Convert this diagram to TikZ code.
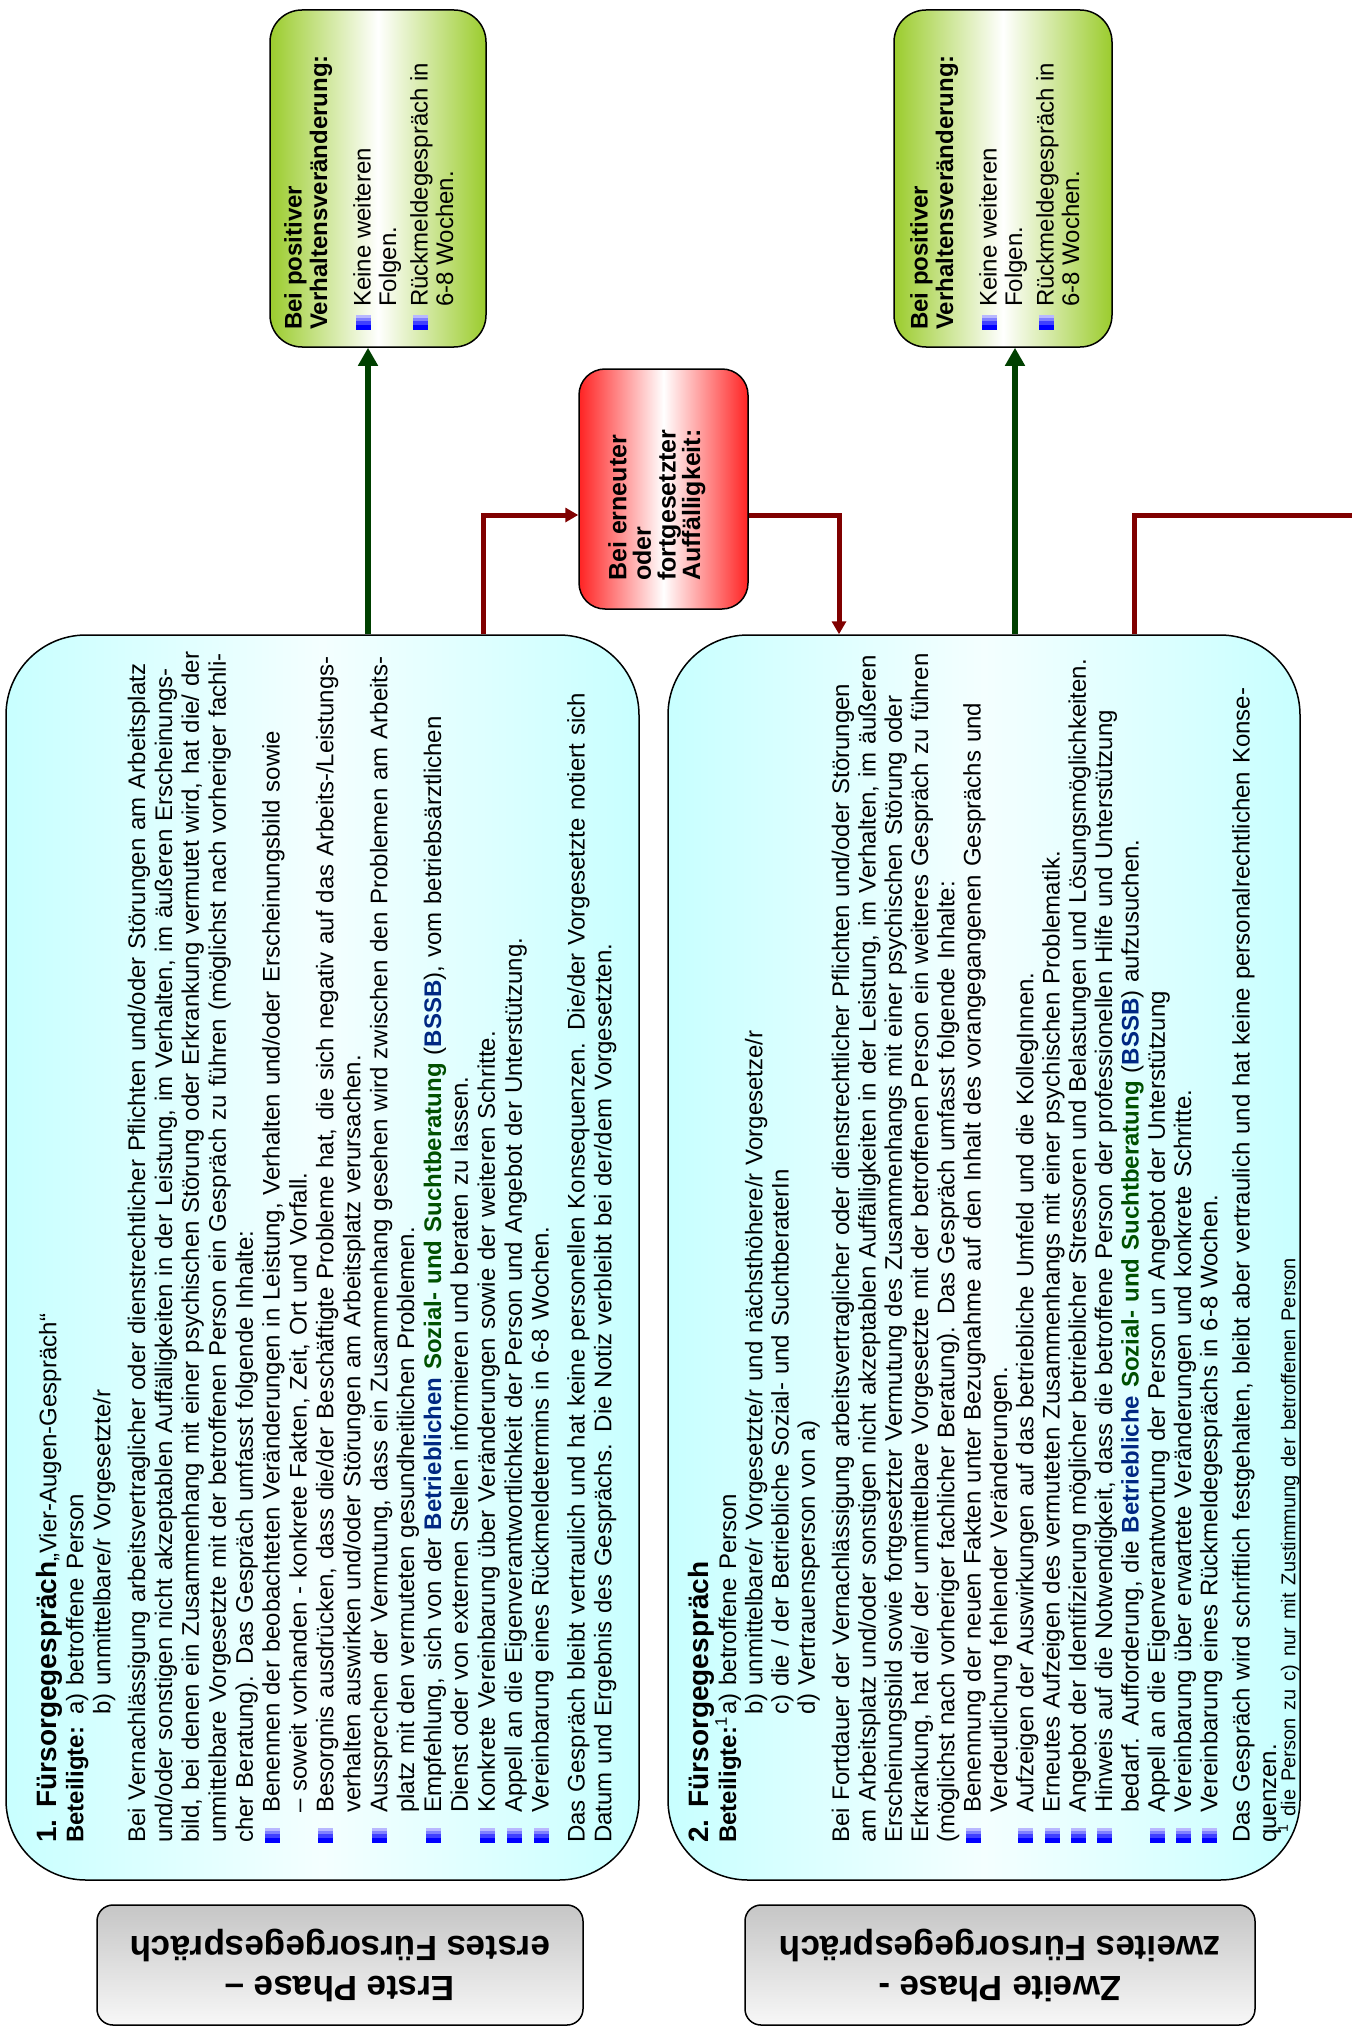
\documentclass[tikz,border=0pt]{standalone}
\usepackage{fontspec}
\setmainfont{Liberation Sans}
\usetikzlibrary{arrows.meta, positioning, shadings}

\definecolor{cyanbox}{RGB}{200,255,255}
\definecolor{grnbox}{RGB}{155,204,45}
\definecolor{redbox}{RGB}{255,35,35}
\definecolor{okgreen}{RGB}{0,64,0}
\definecolor{warnred}{RGB}{128,0,0}
\definecolor{bssbblue}{RGB}{0,40,130}
\definecolor{bssbgreen}{RGB}{0,80,0}

% bullet squares (light towards the end of the line)
\newcommand{\bulsq}[1]{%
  \textcolor{blue}{\rule{\dimexpr #1pt*35/100\relax}{#1pt}}%
  \textcolor{blue!75}{\rule{\dimexpr #1pt*25/100\relax}{#1pt}}%
  \textcolor{blue!50}{\rule{\dimexpr #1pt*20/100\relax}{#1pt}}%
  \textcolor{blue!28}{\rule{\dimexpr #1pt*20/100\relax}{#1pt}}}
\newcommand{\bul}{\makebox[30pt][l]{\bulsq{15}}}
\newcommand{\ind}{\hspace*{30pt}}
\newcommand{\sbul}{\makebox[23pt][l]{\bulsq{15}}}
\newcommand{\sind}{\hspace*{23pt}}
\newcommand{\bssb}[1]{\textcolor{bssbblue}{\textbf{#1}}}
\newcommand{\ssb}[1]{\textcolor{bssbgreen}{\textbf{#1}}}

\tikzset{
  phasebox/.style={draw=black, line width=1.5pt, rounded corners=16pt, inner sep=0pt,
    top color=gray!45, bottom color=gray!6},
  talkbox/.style={draw=black, line width=1.5pt, rounded corners=80pt, inner sep=0pt,
    left color=cyanbox, right color=cyanbox, middle color=cyanbox!20!white},
  okbox/.style={draw=black, line width=1.5pt, rounded corners=32pt, inner sep=0pt,
    left color=grnbox, right color=grnbox, middle color=white},
  warnbox/.style={draw=black, line width=1.5pt, rounded corners=26pt, inner sep=0pt,
    left color=redbox, right color=redbox, middle color=white},
  bodytext/.style={rotate=90, anchor=north west, inner sep=0pt, text width=1260pt,
    align=left, font=\fontsize{24}{26.9}\selectfont},
  sidetext/.style={rotate=90, anchor=north west, inner sep=0pt, align=left,
    font=\fontsize{24}{25.5}\selectfont},
  phasetext/.style={rotate=180, align=center, inner sep=0pt,
    font=\fontsize{35}{40}\selectfont\bfseries},
  okarrow/.style={draw=okgreen, line width=6.5pt, -{Triangle[length=18pt,width=19pt]}},
  warnline/.style={draw=warnred, line width=5pt},
  warnarrow/.style={warnline, -{Triangle[length=13pt,width=14pt]}},
}

\begin{document}
\begin{tikzpicture}[x=1pt, y=-1pt]
\useasboundingbox (0,0) rectangle (1352,2033);

% boxes
\node[talkbox, minimum width=633pt, minimum height=1245pt] (talk1) at (322.5,1257.5) {};
\node[talkbox, minimum width=632pt, minimum height=1245pt] (talk2) at (984,1257.5) {};
\node[phasebox, minimum width=486pt, minimum height=120pt] (phase1) at (340,1965) {};
\node[phasebox, minimum width=510pt, minimum height=120pt] (phase2) at (1000,1965) {};
\node[okbox, minimum width=216pt, minimum height=337pt] (ok1) at (378,178.5) {};
\node[okbox, minimum width=218pt, minimum height=337pt] (ok2) at (1003,178.5) {};
\node[warnbox, minimum width=169pt, minimum height=240pt] (warn) at (663.5,489) {};

% headers
\node[phasetext] (phase1txt) at (phase1) {Erste Phase –\\erstes Fürsorgegespräch};
\node[phasetext] (phase2txt) at (phase2) {Zweite Phase -\\zweites Fürsorgegespräch};

% first talk
\node[bodytext] (talk1txt) at (36,1843) {%
{\fontsize{28}{30}\selectfont\textbf{1. Fürsorgegespräch}}„Vier-Augen-Gespräch“\\
\makebox[128pt][l]{\textbf{Beteiligte:}}a) betroffene Person\\
\hspace*{128pt}b) unmittelbare/r Vorgesetzte/r\\[8pt]
Bei Vernachlässigung arbeitsvertraglicher oder dienstrechtlicher Pflichten und/oder Störungen am Arbeitsplatz\\
und/oder sonstigen nicht akzeptablen Auffälligkeiten in der Leistung, im Verhalten, im äußeren Erscheinungs-\\
bild, bei denen ein Zusammenhang mit einer psychischen Störung oder Erkrankung vermutet wird, hat die/ der\\
unmittelbare Vorgesetzte mit der betroffenen Person ein Gespräch zu führen (möglichst nach vorheriger fachli-\\
cher Beratung). Das Gespräch umfasst folgende Inhalte:\\
\bul Benennen der beobachteten Veränderungen in Leistung, Verhalten und/oder Erscheinungsbild sowie\\
\ind – soweit vorhanden - konkrete Fakten, Zeit, Ort und Vorfall.\\
\bul Besorgnis ausdrücken, dass die/der Beschäftigte Probleme hat, die sich negativ auf das Arbeits-/Leistungs-\\
\ind verhalten auswirken und/oder Störungen am Arbeitsplatz verursachen.\\
\bul Aussprechen der Vermutung, dass ein Zusammenhang gesehen wird zwischen den Problemen am Arbeits-\\
\ind platz mit den vermuteten gesundheitlichen Problemen.\\
\bul Empfehlung, sich von der \bssb{Betrieblichen} \ssb{Sozial- und Suchtberatung} (\bssb{BSSB}), vom betriebsärztlichen\\
\ind Dienst oder von externen Stellen informieren und beraten zu lassen.\\
\bul Konkrete Vereinbarung über Veränderungen sowie der weiteren Schritte.\\
\bul Appell an die Eigenverantwortlichkeit der Person und Angebot der Unterstützung.\\
\bul Vereinbarung eines Rückmeldetermins in 6-8 Wochen.\\[9pt]
Das Gespräch bleibt vertraulich und hat keine personellen Konsequenzen. Die/der Vorgesetzte notiert sich\\
Datum und Ergebnis des Gesprächs. Die Notiz verbleibt bei der/dem Vorgesetzten.};

% second talk
\node[bodytext, font=\fontsize{24}{26.3}\selectfont] (talk2txt) at (688,1843) {%
{\fontsize{28}{30}\selectfont\textbf{2. Fürsorgegespräch}}\\
\makebox[128pt][l]{\textbf{Beteiligte:}\textsuperscript{1}}a) betroffene Person\\
\hspace*{128pt}b) unmittelbare/r Vorgesetzte/r und nächsthöhere/r Vorgesetze/r\\
\hspace*{128pt}c) die / der Betriebliche Sozial- und SuchtberaterIn\\
\hspace*{128pt}d) Vertrauensperson von a)\\[8pt]
Bei Fortdauer der Vernachlässigung arbeitsvertraglicher oder dienstrechtlicher Pflichten und/oder Störungen\\
am Arbeitsplatz und/oder sonstigen nicht akzeptablen Auffälligkeiten in der Leistung, im Verhalten, im äußeren\\
Erscheinungsbild sowie fortgesetzter Vermutung des Zusammenhangs mit einer psychischen Störung oder\\
Erkrankung, hat die/ der unmittelbare Vorgesetzte mit der betroffenen Person ein weiteres Gespräch zu führen\\
(möglichst nach vorheriger fachlicher Beratung). Das Gespräch umfasst folgende Inhalte:\\
\bul Benennung der neuen Fakten unter Bezugnahme auf den Inhalt des vorangegangenen Gesprächs und\\
\ind Verdeutlichung fehlender Veränderungen.\\
\bul Aufzeigen der Auswirkungen auf das betriebliche Umfeld und die KollegInnen.\\
\bul Erneutes Aufzeigen des vermuteten Zusammenhangs mit einer psychischen Problematik.\\
\bul Angebot der Identifizierung möglicher betrieblicher Stressoren und Belastungen und Lösungsmöglichkeiten.\\
\bul Hinweis auf die Notwendigkeit, dass die betroffene Person der professionellen Hilfe und Unterstützung\\
\ind bedarf. Aufforderung, die \bssb{Betriebliche} \ssb{Sozial- und Suchtberatung} (\bssb{BSSB}) aufzusuchen.\\
\bul Appell an die Eigenverantwortung der Person un Angebot der Unterstützung\\
\bul Vereinbarung über erwartete Veränderungen und konkrete Schritte.\\
\bul Vereinbarung eines Rückmeldegesprächs in 6-8 Wochen.\\[6pt]
Das Gespräch wird schriftlich festgehalten, bleibt aber vertraulich und hat keine personalrechtlichen Konse-\\
quenzen.\\[-7pt]
\hspace*{10pt}{\fontsize{20}{21}\selectfont\textsuperscript{1} die Person zu c) nur mit Zustimmung der betroffenen Person}};

% outcome boxes
\node[sidetext] (ok1txt) at (284,330) {\textbf{Bei positiver}\\
\textbf{Verhaltensveränderung:}\\[18pt]
\sbul Keine weiteren\\ \sind Folgen.\\[6pt]
\sbul Rückmeldegespräch in\\ \sind 6-8 Wochen.};
\node[sidetext] (ok2txt) at (910,330) {\textbf{Bei positiver}\\
\textbf{Verhaltensveränderung:}\\[18pt]
\sbul Keine weiteren\\ \sind Folgen.\\[6pt]
\sbul Rückmeldegespräch in\\ \sind 6-8 Wochen.};
\node[sidetext, font=\fontsize{25}{24.6}\selectfont\bfseries] (warntxt) at (608,581)
  {Bei erneuter\\ oder\\ fortgesetzter\\ Auffälligkeit:};

% connectors
\draw[okarrow] (368,0 |- talk1.north) -- (368,0 |- ok1.south);
\draw[okarrow] (1015,0 |- talk2.north) -- (1015,0 |- ok2.south);
\draw[warnarrow] (483,0 |- talk1.north) |- ([yshift=-26pt]warn.west);
\draw[warnarrow] ([yshift=-26pt]warn.east) -| (839,0 |- talk2.north);
\coordinate (nextphase) at (1352,515);
\draw[warnline] (1134,0 |- talk2.north) |- (nextphase);
\end{tikzpicture}
\end{document}
